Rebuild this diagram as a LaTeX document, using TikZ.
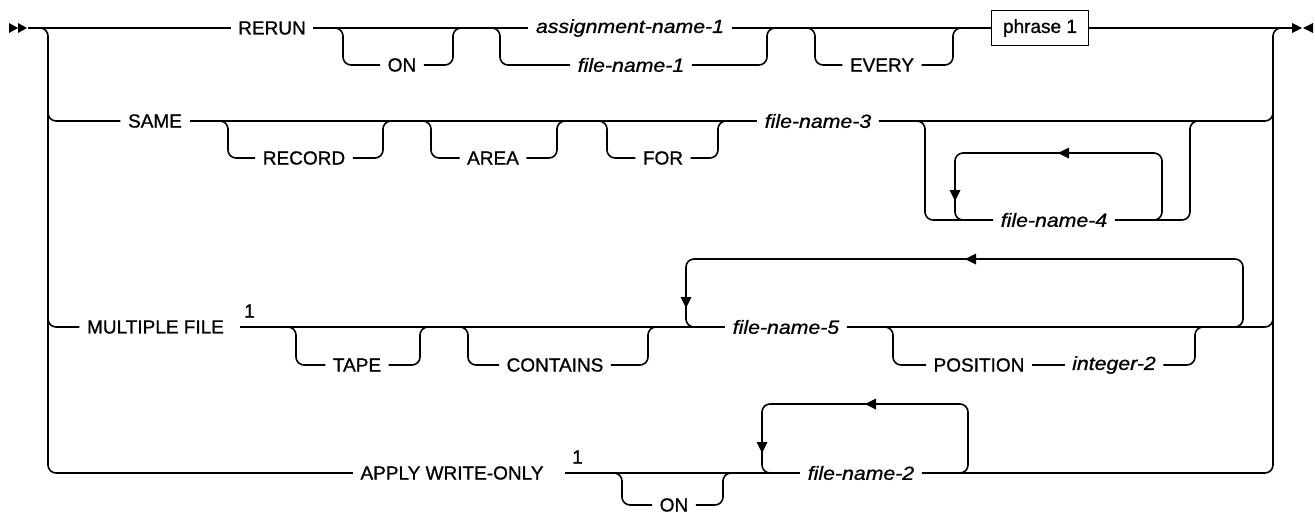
\documentclass[tikz,border=0pt]{standalone}
\usepackage{fontspec}
\usepackage{graphicx}
\setmainfont{Liberation Sans}[FakeBold=0.9]
\newcommand\vx[1]{\scalebox{1.12}[1]{#1}}
\newcommand\tipL[2]{\fill (#1,#2) -- ++(11,-5.5) -- ++(0,11) -- cycle;}
\newcommand\tipD[2]{\fill (#1,#2) -- ++(-5.5,-11) -- ++(11,0) -- cycle;}
\begin{document}
\begin{tikzpicture}[x=0.75pt,y=-0.75pt,
  rail/.style={line width=1.2pt, rounded corners=6pt},
  kw/.style={inner xsep=5.5pt, inner ysep=0pt, font=\fontsize{14.25}{17}\selectfont},
  var/.style={inner xsep=5.5pt, inner ysep=0pt, font=\fontsize{14.25}{17}\selectfont\itshape},
  boxed/.style={draw, line width=1.1pt, minimum width=72.75pt, minimum height=26.25pt, inner sep=0pt, font=\fontsize{14.25}{17}\selectfont},
  supnum/.style={inner sep=0pt, font=\fontsize{14.25}{17}\selectfont}]
\useasboundingbox (0,0) rectangle (1315,515);

% ---- text nodes ----
\node[kw] (rerun) at (272,28) {RERUN};
\node[kw] (on1) at (402,65) {ON};
\node[var] (asg) at (630,28) {\vx{assignment-name-1}};
\node[var] (fn1) at (631,65) {\vx{file-name-1}};
\node[kw] (every) at (882,65) {EVERY};
\node[boxed] (phr) at (1040,28) {phrase 1};
\node[kw] (same) at (155,121) {SAME};
\node[kw] (record) at (304,158) {RECORD};
\node[kw] (area) at (493,158) {AREA};
\node[kw] (for) at (663,158) {FOR};
\node[var] (fn3) at (818,121) {\vx{file-name-3}};
\node[var] (fn4) at (1054,220) {\vx{file-name-4}};
\node[kw] (mult) at (155.5,327) {MULTIPLE FILE};
\node[supnum] (n1a) at (249.5,311) {1};
\node[kw] (tape) at (357,365) {TAPE};
\node[kw] (cont) at (555,365) {CONTAINS};
\node[var] (fn5) at (786,327) {\vx{file-name-5}};
\node[kw] (pos) at (979,365) {POSITION};
\node[var] (int2) at (1114,365) {\vx{integer-2}};
\node[kw] (apply) at (452,473) {APPLY WRITE-ONLY};
\node[supnum] (n1b) at (577.5,457) {1};
\node[kw] (on4) at (674,505) {ON};
\node[var] (fn2) at (861,473) {\vx{file-name-2}};

\coordinate (start) at (28,28);
\coordinate (stop) at (1292,28);
\coordinate (m3) at (240,327);
\coordinate (m4) at (565,473);

% ---- start / end marks ----
\fill (9,23) -- (18,28) -- (9,33) -- cycle;
\fill (18,23) -- (27,28) -- (18,33) -- cycle;
\fill (1292,23) -- (1302,28) -- (1292,33) -- cycle;
\fill (1313,23) -- (1303,28) -- (1313,33) -- cycle;

% ---- row 1 ----
\draw[rail] (start) -- (rerun.west);
\draw[rail] (rerun.east) -- (asg.west);
\draw[rail] (asg.east) -- (phr.west);
\draw[rail] (phr.east) -- (stop);
\draw[rail] (330,28) -- (343,28) -- (343,65) -- (on1.west);
\draw[rail] (on1.east) -- (453,65) -- (453,28) -- (466,28);
\draw[rail] (487,28) -- (500,28) -- (500,65) -- (fn1.west);
\draw[rail] (fn1.east) -- (767,65) -- (767,28) -- (780,28);
\draw[rail] (802,28) -- (815,28) -- (815,65) -- (every.west);
\draw[rail] (every.east) -- (953,65) -- (953,28) -- (966,28);

% ---- left and right verticals ----
\draw[rail] (36,28) -- (48,28) -- (48,473) -- (apply.west);
\draw[rail] (48,100) -- (48,121) -- (same.west);
\draw[rail] (48,300) -- (48,327) -- (mult.west);
\draw[rail] (fn2.east) -- (1273,473) -- (1273,28) -- (1285,28);
\draw[rail] (fn3.east) -- (1273,121) -- (1273,100);
\draw[rail] (fn5.east) -- (1273,327) -- (1273,300);

% ---- row 2 ----
\draw[rail] (same.east) -- (fn3.west);
\draw[rail] (215,121) -- (228,121) -- (228,158) -- (record.west);
\draw[rail] (record.east) -- (383,158) -- (383,121) -- (396,121);
\draw[rail] (418,121) -- (431,121) -- (431,158) -- (area.west);
\draw[rail] (area.east) -- (557,158) -- (557,121) -- (570,121);
\draw[rail] (594,121) -- (607,121) -- (607,158) -- (for.west);
\draw[rail] (for.east) -- (718,158) -- (718,121) -- (731,121);
\draw[rail] (912,121) -- (925,121) -- (925,220) -- (fn4.west);
\draw[rail] (fn4.east) -- (1190,220) -- (1190,121) -- (1203,121);
\draw[rail] (1150,220) -- (1162,220) -- (1162,153) -- (955,153) -- (955,220) -- (968,220);
\tipL{1058}{153}
\tipD{955}{201}

% ---- row 3 ----
\draw[rail] (m3) -- (fn5.west);
\draw[rail] (283,327) -- (296,327) -- (296,365) -- (tape.west);
\draw[rail] (tape.east) -- (420,365) -- (420,327) -- (433,327);
\draw[rail] (455,327) -- (468,327) -- (468,365) -- (cont.west);
\draw[rail] (cont.east) -- (648,365) -- (648,327) -- (661,327);
\draw[rail] (1230,327) -- (1243,327) -- (1243,259) -- (686,259) -- (686,327) -- (699,327);
\tipL{965}{259}
\tipD{686}{308}
\draw[rail] (880,327) -- (893,327) -- (893,365) -- (pos.west);
\draw[rail] (pos.east) -- (int2.west);
\draw[rail] (int2.east) -- (1195,365) -- (1195,327) -- (1208,327);

% ---- row 4 ----
\draw[rail] (m4) -- (fn2.west);
\draw[rail] (609,473) -- (622,473) -- (622,505) -- (on4.west);
\draw[rail] (on4.east) -- (723,505) -- (723,473) -- (736,473);
\draw[rail] (955,473) -- (968,473) -- (968,404) -- (762,404) -- (762,473) -- (775,473);
\tipL{865}{404}
\tipD{762}{453}
\end{tikzpicture}
\end{document}
